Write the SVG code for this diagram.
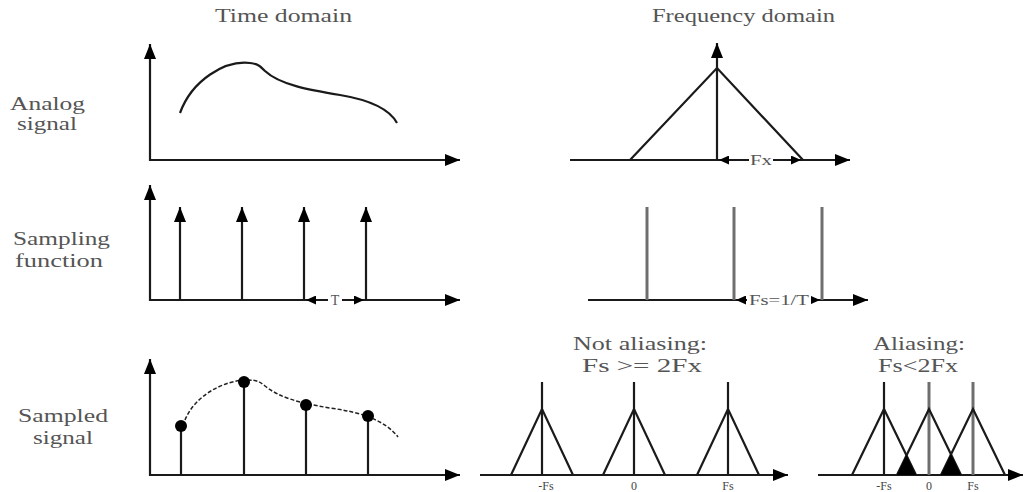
<svg xmlns="http://www.w3.org/2000/svg" width="1025" height="492" viewBox="0 0 1025 492">
<style>
.ln{stroke:#1a1a1a;stroke-width:2.2;fill:none}
.gl{stroke:#6e6e6e;stroke-width:3;fill:none}
.tx{font-family:"Liberation Serif","Times New Roman",serif;fill:#555}
.t1{font-size:19px}
.t2{font-size:18px}
.sm{font-size:12px;fill:#444;text-anchor:middle}
.dl{font-size:14px;fill:#555;text-anchor:middle}
.ax{marker-end:url(#arr)}
.dm{stroke:#1a1a1a;stroke-width:1.6;marker-start:url(#sa);marker-end:url(#sa)}
</style>
<defs>
<marker id="arr" markerUnits="userSpaceOnUse" markerWidth="16" markerHeight="12" refX="15" refY="6" orient="auto"><path d="M0,0 L15,6 L0,12 z" fill="#000"/></marker>
<marker id="sa" markerUnits="userSpaceOnUse" markerWidth="10" markerHeight="9" refX="10" refY="4.5" orient="auto-start-reverse"><path d="M0,0 L10,4.5 L0,9 z" fill="#000"/></marker>
</defs>

<g id="titles">
<text class="tx t1" x="215" y="22" textLength="137" lengthAdjust="spacingAndGlyphs">Time domain</text>
<text class="tx t1" x="652" y="22" textLength="183" lengthAdjust="spacingAndGlyphs">Frequency domain</text>
</g>

<g id="row-labels">
<text class="tx t2" x="10" y="110" textLength="75" lengthAdjust="spacingAndGlyphs">Analog</text>
<text class="tx t2" x="17" y="130" textLength="60" lengthAdjust="spacingAndGlyphs">signal</text>
<text class="tx t2" x="13" y="245" textLength="97" lengthAdjust="spacingAndGlyphs">Sampling</text>
<text class="tx t2" x="15" y="267" textLength="88" lengthAdjust="spacingAndGlyphs">function</text>
<text class="tx t2" x="18" y="422" textLength="90" lengthAdjust="spacingAndGlyphs">Sampled</text>
<text class="tx t2" x="33" y="444" textLength="60" lengthAdjust="spacingAndGlyphs">signal</text>
</g>

<g id="analog-time">
<line class="ln ax" x1="150" y1="161" x2="150" y2="44"/>
<line class="ln ax" x1="149" y1="160" x2="460" y2="160"/>
<path class="ln" d="M180,113 C192,80 225,60 250,63 C258,64 260,66 265,71 C280,85 310,90 340,95 C370,100 390,110 397,123"/>
</g>

<g id="analog-freq">
<line class="ln ax" x1="717" y1="160" x2="717" y2="43"/>
<line class="ln ax" x1="570" y1="160" x2="850" y2="160"/>
<polyline class="ln" points="630,160 717,68 803,160"/>
<line class="dm" x1="719" y1="160" x2="801" y2="160"/>
<rect x="749" y="153" width="24" height="14" fill="#fff"/>
<text class="tx dl" x="761" y="165" textLength="22" lengthAdjust="spacingAndGlyphs">Fx</text>
</g>

<g id="sampling-time">
<line class="ln ax" x1="150" y1="301" x2="150" y2="185"/>
<line class="ln ax" x1="149" y1="300" x2="460" y2="300"/>
<line class="ln ax" x1="180" y1="300" x2="180" y2="207"/>
<line class="ln ax" x1="242" y1="300" x2="242" y2="207"/>
<line class="ln ax" x1="304" y1="300" x2="304" y2="207"/>
<line class="ln ax" x1="366" y1="300" x2="366" y2="207"/>
<line class="dm" x1="306" y1="300" x2="364" y2="300"/>
<rect x="328" y="293" width="14" height="14" fill="#fff"/>
<text class="tx dl" x="335" y="305">T</text>
</g>

<g id="sampling-freq">
<line class="ln ax" x1="588" y1="300" x2="868" y2="300"/>
<line class="gl" x1="647" y1="207" x2="647" y2="300"/>
<line class="gl" x1="734" y1="207" x2="734" y2="300"/>
<line class="gl" x1="822" y1="207" x2="822" y2="300"/>
<line class="dm" x1="736" y1="300" x2="820" y2="300"/>
<rect x="747" y="293" width="64" height="14" fill="#fff"/>
<text class="tx dl" x="779" y="305" textLength="60" lengthAdjust="spacingAndGlyphs">Fs=1/T</text>
</g>

<g id="sampled-time">
<line class="ln ax" x1="150" y1="476" x2="150" y2="359"/>
<line class="ln ax" x1="149" y1="475" x2="460" y2="475"/>
<path d="M185,420 C195,395 225,380 247,380 C258,380 260,382 265,386 C280,398 300,403 330,408 C360,412 385,420 398,437" fill="none" stroke="#222" stroke-width="1.5" stroke-dasharray="4,2"/>
<line class="ln" x1="181" y1="475" x2="181" y2="426"/>
<line class="ln" x1="244" y1="475" x2="244" y2="382"/>
<line class="ln" x1="306" y1="475" x2="306" y2="405"/>
<line class="ln" x1="368" y1="475" x2="368" y2="416"/>
<circle cx="181" cy="426" r="6" fill="#000"/>
<circle cx="244" cy="382" r="6" fill="#000"/>
<circle cx="306" cy="405" r="6" fill="#000"/>
<circle cx="368" cy="416" r="6" fill="#000"/>
</g>

<g id="not-aliasing">
<text class="tx t2" x="573" y="350" textLength="134" lengthAdjust="spacingAndGlyphs">Not aliasing:</text>
<text class="tx t2" x="582" y="372" textLength="120" lengthAdjust="spacingAndGlyphs">Fs &gt;= 2Fx</text>
<line class="ln ax" x1="480" y1="475" x2="788" y2="475"/>
<line class="ln" x1="542" y1="382" x2="542" y2="475"/>
<line class="ln" x1="634" y1="382" x2="634" y2="475"/>
<line class="ln" x1="728" y1="382" x2="728" y2="475"/>
<polyline class="ln" points="511,475 542,409 573,475"/>
<polyline class="ln" points="603,475 634,409 665,475"/>
<polyline class="ln" points="697,475 728,409 759,475"/>
<text class="tx sm" x="546" y="490">-Fs</text>
<text class="tx sm" x="634" y="490">0</text>
<text class="tx sm" x="728" y="490">Fs</text>
</g>

<g id="aliasing">
<text class="tx t2" x="873" y="350" textLength="92" lengthAdjust="spacingAndGlyphs">Aliasing:</text>
<text class="tx t2" x="878" y="372" textLength="80" lengthAdjust="spacingAndGlyphs">Fs&lt;2Fx</text>
<line class="ln ax" x1="818" y1="475" x2="1023" y2="475"/>
<line class="ln" x1="884" y1="382" x2="884" y2="475" stroke-width="1.6"/>
<line class="gl" x1="929" y1="382" x2="929" y2="475"/>
<line class="gl" x1="973" y1="382" x2="973" y2="475"/>
<polyline class="ln" points="852,475 884,409 916,475"/>
<polyline class="ln" points="897,475 929,409 961,475"/>
<polyline class="ln" points="941,475 973,409 1005,475"/>
<polygon points="897,475 906.5,455 916,475" fill="#000"/>
<polygon points="941,475 951,454 961,475" fill="#000"/>
<text class="tx sm" x="884" y="490">-Fs</text>
<text class="tx sm" x="929" y="490">0</text>
<text class="tx sm" x="973" y="490">Fs</text>
</g>
</svg>
